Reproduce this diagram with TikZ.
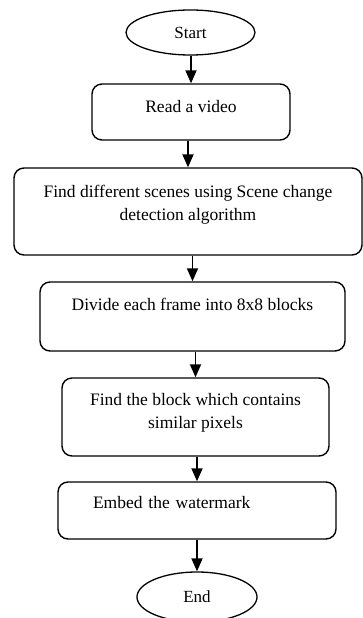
\documentclass[tikz,border=0pt]{standalone}
\usepackage{fontspec}
\setmainfont{Liberation Serif}
\usetikzlibrary{arrows.meta,shapes.geometric}

\begin{document}
\begin{tikzpicture}[x=1pt,y=-1pt,
    font=\fontsize{17.5}{23}\selectfont,
    terminal/.style={draw,ellipse,line width=1.3pt,inner sep=0pt,font=\fontsize{17}{23}\selectfont},
    process/.style={draw,rectangle,rounded corners=10pt,line width=1.4pt,align=center,inner sep=4pt},
    flow/.style={-{Triangle[width=11pt,length=13pt]},line width=1.8pt}]
  \useasboundingbox (0,0) rectangle (363,618);
  % Start
  \node[terminal,minimum width=129pt,minimum height=45pt] (start) at (190.5,32.5) {Start};
  % Steps
  \node[process,minimum width=198pt,minimum height=56pt,text height=12pt,text depth=12pt] (read) at (191,112) {Read a video};
  \node[process,minimum width=348pt,minimum height=87pt,text depth=18pt] (scenes) at (188,211.5) {Find different scenes using Scene change\\detection algorithm};
  \node[process,minimum width=305pt,minimum height=69pt,text height=12pt,text depth=24pt] (divide) at (192.5,316.5) {Divide each frame into 8x8 blocks};
  \node[process,minimum width=267pt,minimum height=78pt,text depth=13pt] (similar) at (195.5,417) {Find the block which contains\\similar pixels};
  \node[process,minimum width=278pt,minimum height=57pt,text height=12pt,text depth=16pt,
        align=left,text width=208pt,inner xsep=35pt] (embed) at (197,510.5) {Embed the watermark};
  % End
  \node[terminal,minimum width=120pt,minimum height=50pt] (end) at (197,597) {End};
  % Arrows
  \draw[flow] (read.north |- start.south) -- (read.north);
  \draw[flow] (scenes.north |- read.south) -- (scenes.north);
  \draw[flow] (divide.north |- scenes.south) -- (divide.north);
  \draw[flow] (similar.north |- divide.south) -- (similar.north);
  \draw[flow] (embed.north |- similar.south) -- (embed.north);
  \draw[flow] (end.north |- embed.south) -- (end.north);
\end{tikzpicture}
\end{document}
